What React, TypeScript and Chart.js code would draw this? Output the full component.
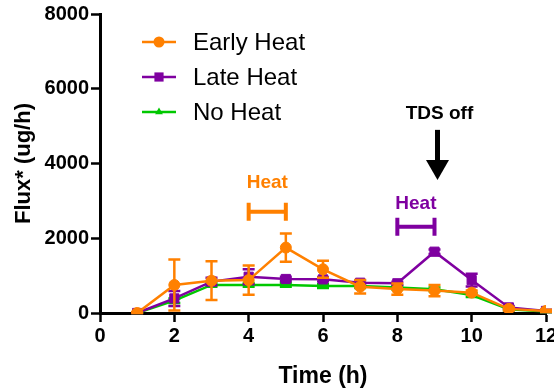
import React, { useEffect, useRef } from "react";
import { Chart, registerables } from "chart.js";

Chart.register(...registerables);

const hours = [1, 2, 3, 4, 5, 6, 7, 8, 9, 10, 11, 12];
const earlyHeat = [0, 750, 865, 880, 1750, 1170, 705, 640, 600, 545, 110, 55];
const earlyErr = [30, 680, 520, 390, 380, 230, 180, 150, 150, 60, 40, 30];
const lateHeat = [0, 390, 840, 970, 910, 900, 810, 795, 1640, 880, 150, 55];
const lateErr = [20, 200, 100, 200, 60, 60, 60, 40, 60, 170, 40, 30];
const noHeat = [0, 330, 750, 750, 750, 720, 720, 680, 635, 480, 100, 40];
const noErr = [20, 60, 50, 50, 50, 50, 50, 50, 50, 50, 30, 20];
const seriesNames = ["Early Heat", "Late Heat", "No Heat"];
const seriesColors = ["#FF8000", "#7F00A0", "#00C800"];
const seriesShapes = ["circle", "rect", "triangle"];
const xTicks = [0, 2, 4, 6, 8, 10, 12];
const yTicks = [0, 2000, 4000, 6000, 8000];
const earlyHeatSpan = [4, 5];
const lateHeatSpan = [8, 9];
const tdsOffHour = 9;

const FONT = "'Liberation Sans', Arial, sans-serif";

export default function App() {
  const ref = useRef<HTMLCanvasElement | null>(null);

  useEffect(() => {
    if (!ref.current) return;
    const values = [earlyHeat, lateHeat, noHeat];
    const errs = [earlyErr, lateErr, noErr];
    const radii = [5.5, 6.5, 4.5];

    const errorBars = {
      id: "errorBars",
      afterDatasetDraw(chart: any, args: any) {
        const i = args.index;
        const ctx = chart.ctx;
        const xs = chart.scales.x;
        const ys = chart.scales.y;
        ctx.save();
        ctx.strokeStyle = seriesColors[i];
        ctx.lineWidth = 2.5;
        values[i].forEach((v, k) => {
          const e = errs[i][k];
          const px = xs.getPixelForValue(hours[k]);
          const top = ys.getPixelForValue(v + e);
          const bot = ys.getPixelForValue(Math.max(0, v - e));
          ctx.beginPath();
          ctx.moveTo(px, top);
          ctx.lineTo(px, bot);
          ctx.moveTo(px - 6, top);
          ctx.lineTo(px + 6, top);
          ctx.moveTo(px - 6, bot);
          ctx.lineTo(px + 6, bot);
          ctx.stroke();
        });
        ctx.restore();
      },
    };

    const annotations = {
      id: "annotations",
      afterDraw(chart: any) {
        const ctx = chart.ctx;
        const xs = chart.scales.x;
        const ys = chart.scales.y;
        ctx.save();
        // legend
        ctx.textBaseline = "middle";
        ctx.textAlign = "left";
        const rows = [42, 77, 112];
        seriesNames.forEach((name, i) => {
          const y = rows[i];
          ctx.strokeStyle = seriesColors[i];
          ctx.fillStyle = seriesColors[i];
          ctx.lineWidth = 2.5;
          ctx.beginPath();
          ctx.moveTo(142, y);
          ctx.lineTo(176, y);
          ctx.stroke();
          (Chart as any).helpers?.drawPoint;
          const r = radii[i];
          ctx.beginPath();
          if (seriesShapes[i] === "circle") {
            ctx.arc(159, y, r, 0, Math.PI * 2);
          } else if (seriesShapes[i] === "rect") {
            const s = r * Math.SQRT1_2;
            ctx.rect(159 - s, y - s, 2 * s, 2 * s);
          } else {
            ctx.moveTo(159, y - r);
            ctx.lineTo(159 + r * 0.87, y + r * 0.5);
            ctx.lineTo(159 - r * 0.87, y + r * 0.5);
            ctx.closePath();
          }
          ctx.fill();
          ctx.fillStyle = "#000";
          ctx.font = `24px ${FONT}`;
          ctx.fillText(name, 193, y + 1);
        });

        const bracket = (span: number[], yVal: number, color: string) => {
          const x1 = xs.getPixelForValue(span[0]);
          const x2 = xs.getPixelForValue(span[1]);
          const y = ys.getPixelForValue(yVal);
          ctx.strokeStyle = color;
          ctx.lineWidth = 4;
          ctx.beginPath();
          ctx.moveTo(x1, y);
          ctx.lineTo(x2, y);
          ctx.moveTo(x1, y - 9);
          ctx.lineTo(x1, y + 9);
          ctx.moveTo(x2, y - 9);
          ctx.lineTo(x2, y + 9);
          ctx.stroke();
        };
        ctx.textAlign = "center";
        ctx.font = `bold 19px ${FONT}`;
        ctx.fillStyle = seriesColors[0];
        ctx.fillText("Heat", (xs.getPixelForValue(earlyHeatSpan[0]) + xs.getPixelForValue(earlyHeatSpan[1])) / 2, ys.getPixelForValue(3480));
        bracket(earlyHeatSpan, 2710, seriesColors[0]);
        ctx.fillStyle = seriesColors[1];
        ctx.fillText("Heat", (xs.getPixelForValue(lateHeatSpan[0]) + xs.getPixelForValue(lateHeatSpan[1])) / 2, ys.getPixelForValue(2930));
        bracket(lateHeatSpan, 2310, seriesColors[1]);

        // TDS off
        const ax = xs.getPixelForValue(tdsOffHour) + 3;
        ctx.fillStyle = "#000";
        ctx.font = `bold 19px ${FONT}`;
        ctx.fillText("TDS off", ax + 2, ys.getPixelForValue(5330));
        const yTop = ys.getPixelForValue(4900);
        const yTip = ys.getPixelForValue(3560);
        const headLen = 20;
        ctx.strokeStyle = "#000";
        ctx.lineWidth = 5;
        ctx.beginPath();
        ctx.moveTo(ax, yTop);
        ctx.lineTo(ax, yTip - headLen + 2);
        ctx.stroke();
        ctx.beginPath();
        ctx.moveTo(ax - 11.5, yTip - headLen);
        ctx.lineTo(ax + 11.5, yTip - headLen);
        ctx.lineTo(ax, yTip);
        ctx.closePath();
        ctx.fill();
        ctx.restore();
      },
    };

    const chart = new Chart(ref.current, {
      type: "line",
      data: {
        datasets: seriesNames.map((name, i) => ({
          label: name,
          data: hours.map((h, k) => ({ x: h, y: values[i][k] })),
          borderColor: seriesColors[i],
          backgroundColor: seriesColors[i],
          pointBackgroundColor: seriesColors[i],
          pointBorderColor: seriesColors[i],
          pointStyle: seriesShapes[i] as any,
          pointRadius: radii[i],
          pointBorderWidth: 1,
          borderWidth: 2.5,
          tension: 0,
          fill: false,
        })),
      },
      options: {
        animation: false,
        responsive: false,
        maintainAspectRatio: false,
        layout: { padding: { left: 0, right: 54, top: 14, bottom: 0 } },
        plugins: { legend: { display: false }, tooltip: { enabled: false } },
        scales: {
          x: {
            type: "linear",
            min: 0,
            max: 12,
            afterBuildTicks: (s: any) => {
              s.ticks = xTicks.map((v) => ({ value: v }));
            },
            afterFit: (s: any) => {
              s.height = 79;
            },
            grid: {
              display: true,
              drawOnChartArea: false,
              drawTicks: true,
              tickLength: 9,
              tickColor: "#000",
              tickWidth: 2.5,
            },
            border: { display: true, color: "#000", width: 3 },
            ticks: {
              color: "#000",
              font: { family: FONT, size: 20, weight: "bold" },
              padding: 2,
              maxRotation: 0,
              autoSkip: false,
            },
            title: {
              display: true,
              text: "Time (h)",
              color: "#000",
              font: { family: FONT, size: 23, weight: "bold" },
              padding: { top: 0, bottom: 2 },
            },
          },
          y: {
            type: "linear",
            min: 0,
            max: 8000,
            afterBuildTicks: (s: any) => {
              s.ticks = yTicks.map((v) => ({ value: v }));
            },
            afterFit: (s: any) => {
              s.width = 100;
            },
            grid: {
              display: true,
              drawOnChartArea: false,
              drawTicks: true,
              tickLength: 9,
              tickColor: "#000",
              tickWidth: 2.5,
            },
            border: { display: true, color: "#000", width: 3 },
            ticks: {
              color: "#000",
              font: { family: FONT, size: 20, weight: "bold" },
              padding: 2,
              autoSkip: false,
              callback: (v: any) => String(v),
            },
            title: {
              display: true,
              text: "Flux* (ug/h)",
              color: "#000",
              font: { family: FONT, size: 22, weight: "bold" },
              padding: { top: 11, bottom: 0 },
            },
          },
        },
      },
      plugins: [errorBars, annotations],
    });
    return () => chart.destroy();
  }, []);

  return (
    <div style={{ position: "fixed", left: 0, top: 0, width: 554, height: 392, overflow: "hidden", background: "#fff" }}>
      <canvas ref={ref} width={600} height={392} style={{ display: "block", width: 600, height: 392 }} />
    </div>
  );
}
